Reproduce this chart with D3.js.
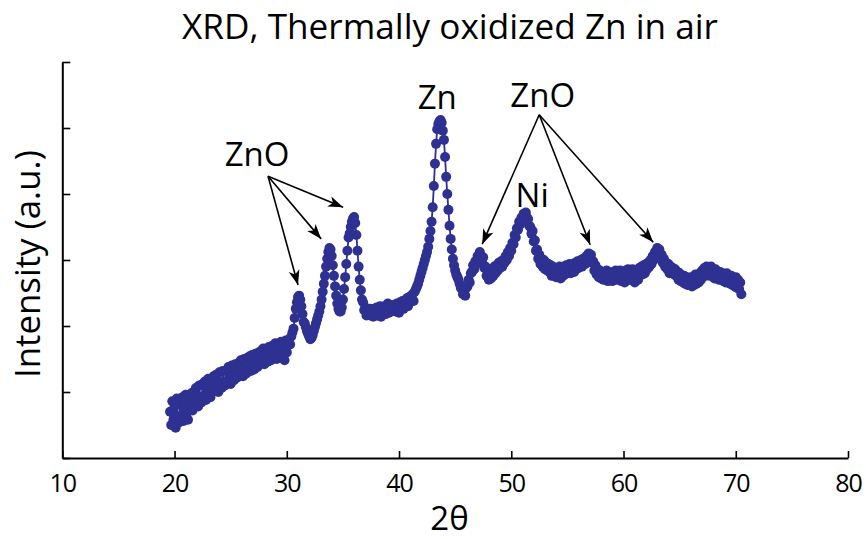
<!DOCTYPE html>
<html><head><meta charset="utf-8">
<script src="https://cdn.jsdelivr.net/npm/d3@7"></script>
<style>
body{margin:0;background:#fff}
svg{display:block}
text{font-family:"Open Sans",sans-serif;fill:#000}
</style>
</head><body>
<svg id="chart" width="866" height="539"></svg>
<script>
// ---- data ----
const title = "XRD, Thermally oxidized Zn in air";
const xLabel = "2θ";
const yLabel = "Intensity (a.u.)";
const scanStart = 19.6;   // first 2θ of the scan
const scanStep = 0.1;     // 2θ step of the scan
const intensity = [
  70, 50, 86, 58, 78, 46, 90, 62, 54, 84,
  64, 92, 56, 82, 96, 68, 58, 94, 76, 98,
  72, 100, 82, 106, 86, 78, 110, 92, 84, 112,
  94, 116, 88, 110, 120, 96, 92, 118, 102, 124,
  104, 126, 108, 100, 130, 114, 106, 132, 116, 110,
  132, 116, 138, 122, 112, 140, 126, 118, 142, 128,
  122, 144, 130, 148, 132, 124, 150, 136, 128, 152,
  136, 154, 132, 156, 142, 134, 158, 144, 138, 160,
  144, 162, 148, 166, 142, 164, 152, 146, 168, 154,
  148, 170, 156, 164, 174, 150, 166, 172, 154, 176,
  158, 172, 148, 178, 160, 174, 180, 172, 184, 190,
  196, 212, 226, 236, 244, 246, 240, 230, 218, 206,
  204, 198, 192, 188, 184, 180, 182, 186, 192, 198,
  204, 210, 216, 222, 230, 240, 252, 264, 276, 290,
  302, 312, 318, 316, 306, 292, 276, 260, 246, 234,
  226, 222, 222, 228, 240, 256, 274, 294, 314, 334,
  340, 350, 358, 363, 365, 356, 338, 314, 290, 270,
  254, 240, 236, 224, 228, 216, 224, 218, 226, 216,
  222, 214, 226, 218, 228, 216, 224, 230, 214, 226,
  220, 230, 218, 226, 234, 220, 228, 222, 232, 224,
  230, 222, 234, 226, 220, 236, 228, 238, 226, 236,
  232, 242, 230, 244, 236, 240, 248, 238, 252, 256,
  260, 264, 270, 276, 282, 288, 294, 300, 306, 312,
  320, 332, 344, 358, 380, 412, 446, 476, 498, 506,
  510, 512, 508, 496, 482, 456, 426, 400, 376, 352,
  332, 316, 302, 292, 284, 278, 274, 270, 264, 258,
  256, 248, 252, 246, 258, 260, 270, 266, 280, 282,
  292, 286, 298, 294, 306, 300, 312, 306, 300, 304,
  288, 290, 276, 284, 270, 278, 272, 286, 276, 290,
  280, 292, 284, 296, 288, 298, 290, 300, 296, 306,
  300, 312, 306, 318, 314, 326, 324, 338, 334, 348,
  346, 358, 354, 364, 360, 370, 366, 372, 364, 362,
  352, 350, 340, 344, 328, 330, 314, 316, 302, 308,
  294, 302, 290, 300, 286, 296, 284, 294, 282, 292,
  276, 290, 278, 288, 274, 286, 280, 290, 272, 286,
  276, 290, 278, 292, 282, 288, 294, 280, 292, 286,
  282, 296, 286, 298, 288, 294, 300, 290, 302, 296,
  294, 306, 298, 310, 304, 308, 296, 298, 284, 292,
  278, 286, 274, 284, 272, 282, 270, 280, 274, 284,
  268, 282, 272, 280, 268, 282, 272, 284, 270, 280,
  272, 284, 268, 282, 274, 266, 284, 272, 286, 270,
  282, 270, 286, 274, 266, 284, 276, 270, 288, 278,
  290, 278, 292, 280, 294, 286, 296, 290, 300, 294,
  306, 300, 312, 306, 318, 312, 316, 306, 308, 296,
  302, 290, 296, 286, 294, 280, 290, 282, 288, 278,
  286, 276, 282, 270, 280, 268, 276, 266, 276, 264,
  274, 262, 272, 264, 274, 260, 270, 262, 278, 264,
  276, 266, 280, 270, 284, 278, 288, 276, 290, 280,
  288, 276, 290, 278, 284, 272, 286, 274, 282, 270,
  282, 270, 280, 268, 278, 266, 280, 268, 274, 264,
  276, 262, 272, 260, 274, 258, 270, 256, 266, 248
];
const xTicks = [10, 20, 30, 40, 50, 60, 70, 80];
const yTicks = [0, 100, 200, 300, 400, 500, 600];
const peakLabels = [
  {text: "ZnO", x: 27.35, y: 442},
  {text: "ZnO", x: 52.8, y: 532},
  {text: "Zn",  x: 43.4, y: 529},
  {text: "Ni",  x: 51.86, y: 380}
];
const arrowGroups = [
  {from: [28.33, 427], to: [[31.0, 262], [33.06, 332], [35.02, 380]]},
  {from: [52.49, 520], to: [[47.41, 324], [57.03, 323], [62.65, 327]]}
];

// ---- drawing ----
const svg = d3.select("#chart");
const x = d3.scaleLinear().domain([10, 80]).range([62.3, 848]);
const y = d3.scaleLinear().domain([0, 600]).range([458, 62]);
const color = "#2e3192";

const points = intensity.map((v, i) => ({t: scanStart + i * scanStep, v}));

// axes
const gx = svg.append("g").attr("transform", "translate(0,458)")
  .call(d3.axisBottom(x).tickValues(xTicks).tickSizeInner(-7).tickSizeOuter(0).tickPadding(16));
const gy = svg.append("g").attr("transform", "translate(62.3,0)")
  .call(d3.axisLeft(y).tickValues(yTicks).tickSizeInner(-8).tickSizeOuter(0).tickFormat(""));
[gx, gy].forEach(g => {
  g.select(".domain").attr("stroke", "#000").attr("stroke-width", 2);
  g.selectAll(".tick line").attr("stroke", "#000").attr("stroke-width", 1.6);
});
gx.selectAll(".tick text").attr("font-family", '"Open Sans",sans-serif').attr("font-size", 25)
  .attr("letter-spacing", -1).attr("fill", "#000");

// data line + markers
svg.append("path").datum(points)
  .attr("fill", "none").attr("stroke", color).attr("stroke-width", 1.8)
  .attr("d", d3.line().x(d => x(d.t)).y(d => y(d.v)));
svg.append("g").selectAll("circle").data(points).join("circle")
  .attr("cx", d => x(d.t)).attr("cy", d => y(d.v)).attr("r", 5).attr("fill", color);

// title & axis labels
svg.append("text").attr("x", 450).attr("y", 39).attr("text-anchor", "middle")
  .attr("font-size", 34).attr("textLength", 536).attr("lengthAdjust", "spacingAndGlyphs").text(title);
svg.append("text").attr("x", x(44.5)).attr("y", 530).attr("text-anchor", "middle")
  .attr("font-size", 33).text(xLabel);
svg.append("text").attr("transform", "translate(40,264) rotate(-90)").attr("text-anchor", "middle")
  .attr("font-size", 35).attr("textLength", 228).attr("lengthAdjust", "spacingAndGlyphs").text(yLabel);

// arrows
const defs = svg.append("defs");
defs.append("marker").attr("id", "ah").attr("viewBox", "-16 -7 18 14")
  .attr("refX", 0).attr("refY", 0).attr("markerWidth", 18).attr("markerHeight", 14)
  .attr("markerUnits", "userSpaceOnUse").attr("orient", "auto")
  .append("path").attr("d", "M0,0 L-15,-5.5 L-11,0 L-15,5.5 Z").attr("fill", "#000");
arrowGroups.forEach(g => {
  g.to.forEach(t => {
    svg.append("line")
      .attr("x1", x(g.from[0])).attr("y1", y(g.from[1]))
      .attr("x2", x(t[0])).attr("y2", y(t[1]))
      .attr("stroke", "#000").attr("stroke-width", 1.6).attr("marker-end", "url(#ah)");
  });
});

// peak labels
svg.append("g").selectAll("text").data(peakLabels).join("text")
  .attr("x", d => x(d.x)).attr("y", d => y(d.y)).attr("text-anchor", "middle")
  .attr("font-size", 33).text(d => d.text);
</script>
</body></html>
